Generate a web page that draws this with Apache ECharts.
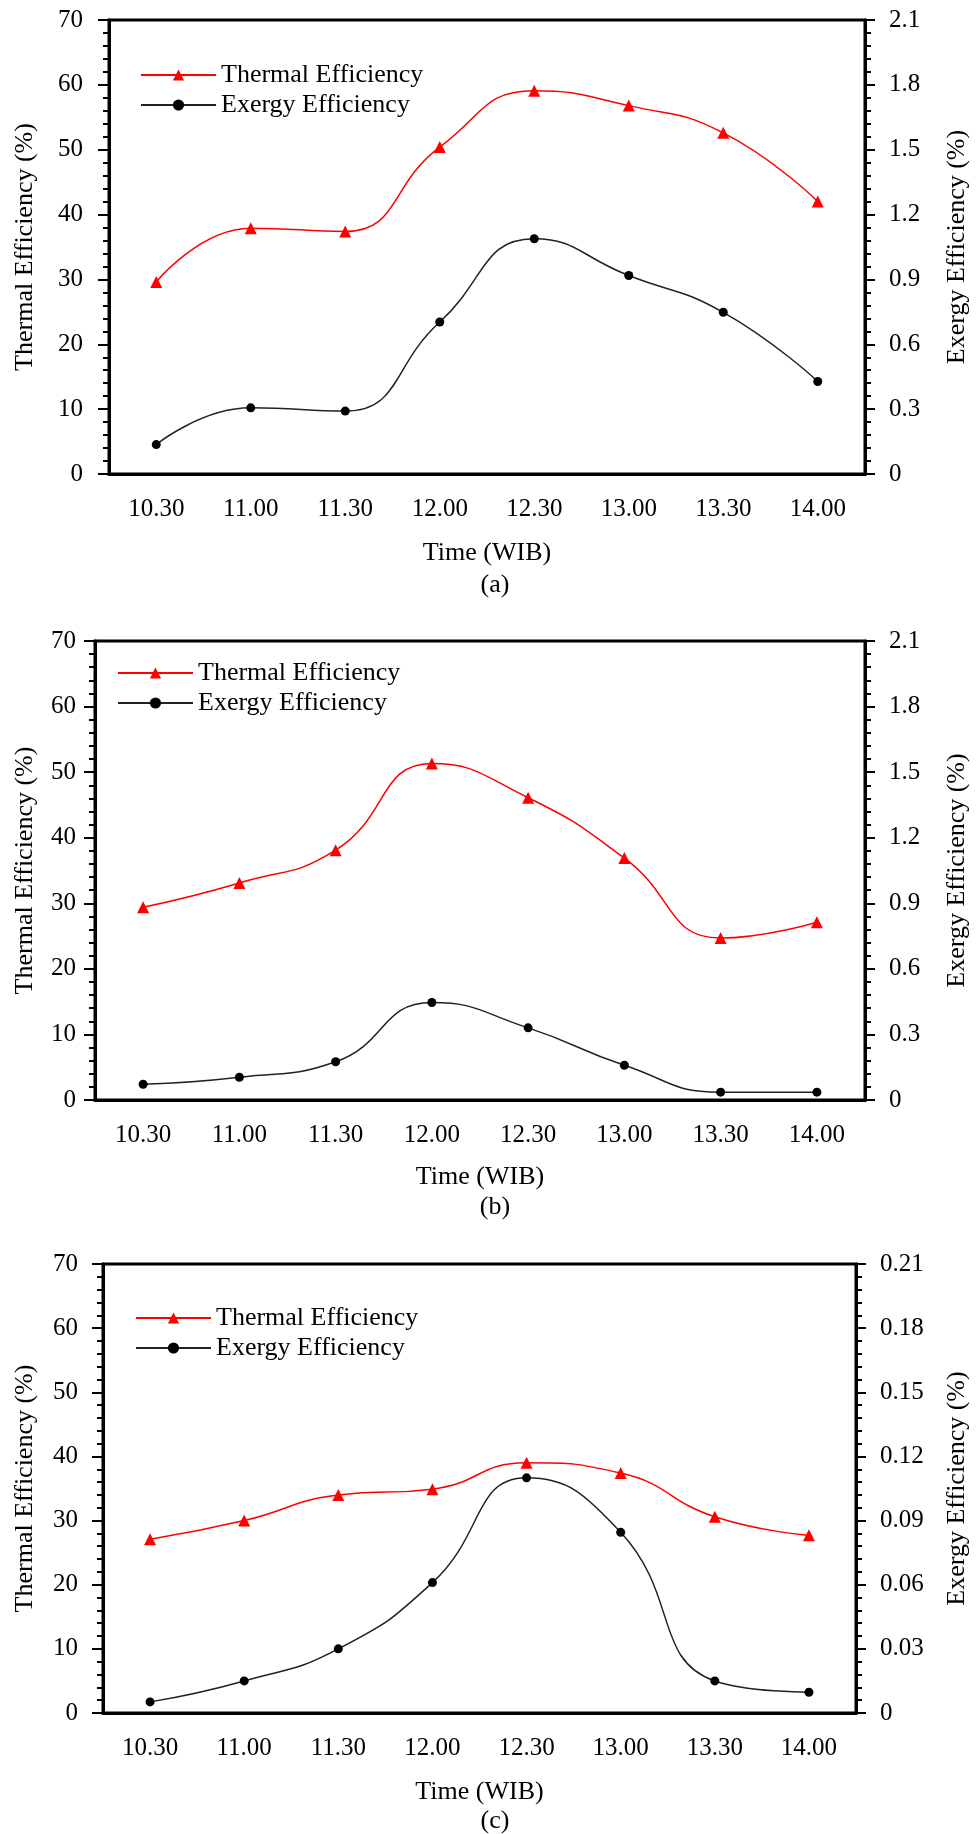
<!DOCTYPE html>
<html>
<head>
<meta charset="utf-8">
<title>Thermal and Exergy Efficiency</title>
<script src="https://cdn.jsdelivr.net/npm/echarts@6/dist/echarts.min.js"></script>
<style>
  html, body { margin: 0; padding: 0; background: #fff; }
  #myChart { width: 978px; height: 1834px; }
</style>
</head>
<body>
<div id="myChart"></div>
<script>
  // data
  const times = ['10.30', '11.00', '11.30', '12.00', '12.30', '13.00', '13.30', '14.00'];

  const thermalA = [29.6, 37.9, 37.4, 50.4, 59.1, 56.8, 52.6, 42.0];
  const exergyA = [0.136, 0.306, 0.291, 0.703, 1.088, 0.918, 0.748, 0.428];

  const thermalB = [29.4, 33.1, 38.1, 51.3, 46.1, 36.9, 24.7, 27.1];
  const exergyB = [0.072, 0.104, 0.175, 0.446, 0.330, 0.159, 0.036, 0.036];

  const thermalC = [27.1, 30.0, 34.0, 34.9, 39.0, 37.4, 30.6, 27.7];
  const exergyC = [0.0052, 0.015, 0.030, 0.061, 0.110, 0.0845, 0.015, 0.0097];

  // axis ranges
  const thermalMax = 70, thermalStep = 10;
  const exergyMax = [2.1, 2.1, 0.21];
  const exergyStep = [0.3, 0.3, 0.03];
  const captions = ['(a)', '(b)', '(c)'];

  const font = 'Liberation Serif, Times New Roman, serif';
  const red = '#ff0000';
  const black = '#222';

  // panel layout (pixels)
  const panels = [
    {left: 109, right: 105, top: 20, height: 454, thermal: thermalA, exergy: exergyA,
      labelGapL: 26, nameGapL: 71, nameGapR: 79, nameGapX: 66, legend: [140, 60], cap: [495, 585]},
    {left: 95, right: 105, top: 641, height: 459, thermal: thermalB, exergy: exergyB,
      labelGapL: 19, nameGapL: 57, nameGapR: 79, nameGapX: 64, legend: [117, 658], cap: [495, 1207]},
    {left: 103, right: 114, top: 1264, height: 449, thermal: thermalC, exergy: exergyC,
      labelGapL: 25, nameGapL: 65, nameGapR: 88, nameGapX: 66, legend: [135, 1303], cap: [495, 1821]}
  ];

  let grid = [], xAxis = [], yAxis = [], series = [], legend = [], graphic = [];

  panels.forEach((p, i) => {
    grid.push({
      left: p.left, right: p.right, top: p.top, height: p.height,
      show: true, borderColor: '#000', borderWidth: 3, backgroundColor: 'transparent'
    });

    // main x axis: ticks between categories
    xAxis.push({
      type: 'category', gridIndex: i, data: times, position: 'bottom',
      name: 'Time (WIB)', nameLocation: 'middle', nameGap: p.nameGapX,
      nameTextStyle: {fontFamily: font, fontSize: 26, color: '#000'},
      axisLine: {lineStyle: {color: '#000', width: 3}},
      axisTick: {length: 7, lineStyle: {color: '#000', width: 2}},
      axisLabel: {fontFamily: font, fontSize: 25, color: '#000', margin: 23},
      splitLine: {show: false}
    });
    // second x axis: ticks under each point
    xAxis.push({
      type: 'category', gridIndex: i, data: times, position: 'bottom',
      axisLine: {show: false},
      axisTick: {alignWithLabel: true, length: 7, lineStyle: {color: '#000', width: 2}},
      axisLabel: {show: false},
      splitLine: {show: false}
    });

    yAxis.push({
      type: 'value', gridIndex: i, position: 'left',
      min: 0, max: thermalMax, interval: thermalStep,
      name: 'Thermal Efficiency (%)', nameLocation: 'middle', nameGap: p.nameGapL, nameRotate: 90,
      nameTextStyle: {fontFamily: font, fontSize: 26, color: '#000'},
      axisLine: {show: true, lineStyle: {color: '#000', width: 3}},
      axisTick: {show: true, length: 11, lineStyle: {color: '#000', width: 2}},
      minorTick: {show: true, splitNumber: 5, length: 6, lineStyle: {color: '#000', width: 2}},
      axisLabel: {fontFamily: font, fontSize: 25, color: '#000', margin: p.labelGapL},
      splitLine: {show: false}
    });
    yAxis.push({
      type: 'value', gridIndex: i, position: 'right',
      min: 0, max: exergyMax[i], interval: exergyStep[i],
      name: 'Exergy Efficiency (%)', nameLocation: 'middle', nameGap: p.nameGapR, nameRotate: 90,
      nameTextStyle: {fontFamily: font, fontSize: 26, color: '#000'},
      axisLine: {show: true, lineStyle: {color: '#000', width: 3}},
      axisTick: {show: true, length: 10, lineStyle: {color: '#000', width: 2}},
      minorTick: {show: true, splitNumber: 5, length: 6, lineStyle: {color: '#000', width: 2}},
      axisLabel: {fontFamily: font, fontSize: 25, color: '#000', margin: 24},
      splitLine: {show: false}
    });

    series.push({
      name: 'Thermal Efficiency', type: 'line', smooth: 0.5,
      xAxisIndex: i * 2, yAxisIndex: i * 2,
      data: p.thermal,
      symbol: 'triangle', symbolSize: 12,
      lineStyle: {color: red, width: 1.5},
      itemStyle: {color: red}
    });
    series.push({
      name: 'Exergy Efficiency', type: 'line', smooth: 0.5,
      xAxisIndex: i * 2, yAxisIndex: i * 2 + 1,
      data: p.exergy,
      symbol: 'circle', symbolSize: 9,
      lineStyle: {color: black, width: 1.5},
      itemStyle: {color: '#000'}
    });

    legend.push({
      orient: 'vertical', left: p.legend[0], top: p.legend[1], padding: 0,
      itemWidth: 75, itemHeight: 14, itemGap: 0,
      data: ['Thermal Efficiency', 'Exergy Efficiency'],
      textStyle: {fontFamily: font, fontSize: 26, color: '#000', lineHeight: 30}
    });

    graphic.push({
      type: 'text', x: p.cap[0], y: p.cap[1],
      style: {text: captions[i], fontFamily: font, fontSize: 26, fill: '#000', align: 'center', verticalAlign: 'middle'}
    });
  });

  let option = {
    animation: false,
    backgroundColor: '#fff',
    grid: grid,
    xAxis: xAxis,
    yAxis: yAxis,
    legend: legend,
    graphic: graphic,
    series: series
  };

  let myChart = echarts.init(document.getElementById('myChart'));
  myChart.setOption(option);
</script>
</body>
</html>
